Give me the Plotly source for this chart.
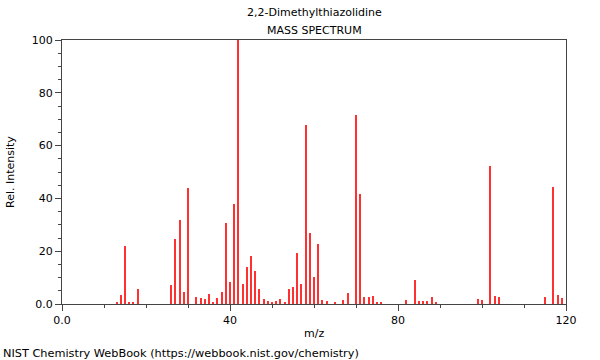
import plotly.graph_objects as go

title_line1 = "2,2-Dimethylthiazolidine"
title_line2 = "MASS SPECTRUM"
footer = "NIST Chemistry WebBook (https://webbook.nist.gov/chemistry)"
x_title = "m/z"
y_title = "Rel. Intensity"

mz = [13, 14, 15, 16, 17, 18, 26, 27, 28, 29, 30, 32, 33, 34, 35, 36, 37, 38, 39, 40,
      41, 42, 43, 44, 45, 46, 47, 48, 49, 50, 51, 52, 53, 54, 55, 56, 57, 58, 59, 60,
      61, 62, 63, 65, 67, 68, 70, 71, 72, 73, 74, 75, 76, 82, 84, 85, 86, 87, 88, 89,
      99, 100, 102, 103, 104, 115, 117, 118, 119]
intensity = [0.8, 3.4, 22.0, 0.5, 0.5, 5.7, 7.2, 24.6, 31.8, 4.7, 43.9, 2.6, 2.3, 1.9, 3.8, 0.7, 2.3, 4.5, 30.7, 8.3,
             37.9, 100.0, 7.4, 14.0, 18.3, 12.5, 5.8, 1.8, 1.1, 0.7, 1.3, 1.9, 0.9, 5.7, 6.4, 19.3, 7.6, 67.8, 26.9, 10.1,
             22.6, 1.5, 1.3, 0.4, 1.4, 4.2, 71.6, 41.7, 2.8, 2.7, 3.0, 0.7, 0.5, 1.5, 9.0, 1.2, 1.1, 1.0, 2.6, 0.5,
             1.9, 1.5, 52.3, 3.2, 2.6, 2.6, 44.4, 3.3, 2.3]

x_tickvals = [0, 40, 80, 120]
x_ticktext = ["0.0", "40", "80", "120"]
y_tickvals = [0, 20, 40, 60, 80, 100]
y_ticktext = ["0.0", "20", "40", "60", "80", "100"]

FONT = "DejaVu Sans"
AXC = "#444444"
L, R, T, B = 62, 34, 40, 56
W, H = 600, 360
pw = W - L - R
ph = H - T - B

fig = go.Figure()
fig.add_trace(go.Bar(x=mz, y=intensity, width=0.2, marker=dict(color="#ff3030", line=dict(width=0))))

fig.update_layout(
    width=W, height=H,
    margin=dict(l=L, r=R, t=T, b=B, autoexpand=False),
    paper_bgcolor="white", plot_bgcolor="white",
    font=dict(family=FONT, size=11, color="black"),
    showlegend=False,
    bargap=0,
)
fig.update_xaxes(
    range=[0, 120], tickvals=x_tickvals, ticktext=x_ticktext,
    ticks="outside", ticklen=6, tickcolor=AXC,
    showline=True, linecolor=AXC, linewidth=1, mirror=True,
    showgrid=False, zeroline=False, automargin=False,
    minor=dict(dtick=10, ticks="outside", ticklen=3, tickcolor=AXC, showgrid=False),
    tickfont=dict(size=11),
)
fig.update_yaxes(
    range=[0, 100], tickvals=y_tickvals, ticktext=y_ticktext,
    ticks="outside", ticklen=6, tickcolor=AXC,
    showline=True, linecolor=AXC, linewidth=1, mirror=True,
    showgrid=False, zeroline=False, automargin=False,
    minor=dict(dtick=5, ticks="outside", ticklen=3, tickcolor=AXC, showgrid=False),
    tickfont=dict(size=11),
)

def px_x(p):
    return (p - L) / pw

def px_y(p):
    return (H - B - p) / ph

fig.add_annotation(text=title_line1, xref="paper", yref="paper", x=0.5, y=px_y(13),
                   showarrow=False, xanchor="center", yanchor="middle", font=dict(size=11))
fig.add_annotation(text=title_line2, xref="paper", yref="paper", x=0.5, y=px_y(30),
                   showarrow=False, xanchor="center", yanchor="middle", font=dict(size=11))
fig.add_annotation(text=x_title, xref="paper", yref="paper", x=0.5, y=px_y(333),
                   showarrow=False, xanchor="center", yanchor="middle", font=dict(size=11))
fig.add_annotation(text=y_title, xref="paper", yref="paper", x=px_x(10), y=0.5, textangle=-90,
                   showarrow=False, xanchor="center", yanchor="middle", font=dict(size=11))
fig.add_annotation(text=footer, xref="paper", yref="paper", x=px_x(1), y=px_y(353),
                   showarrow=False, xanchor="left", yanchor="middle", font=dict(size=11.3))

fig.write_html("out.html", config={"displayModeBar": False},
               post_script="document.body.style.margin='0';document.body.style.padding='0';")
